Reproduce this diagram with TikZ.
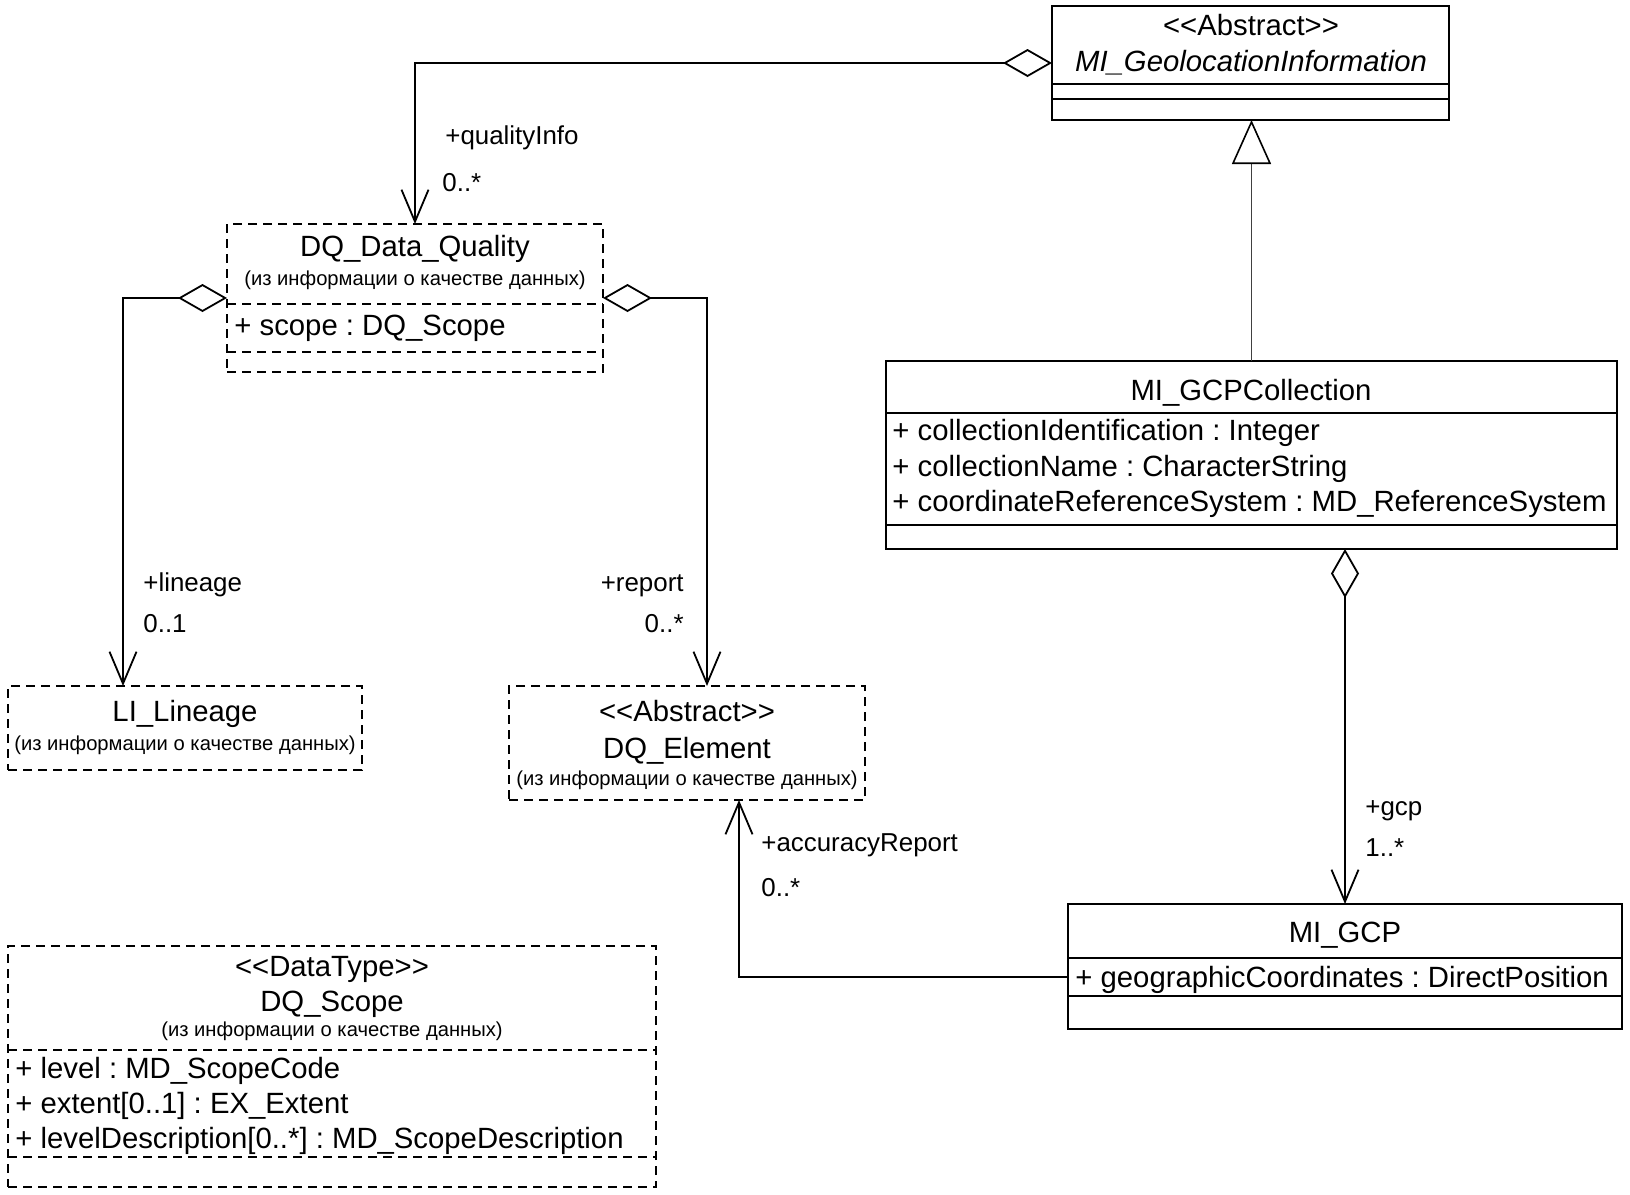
\documentclass[tikz,border=0pt]{standalone}
\usepackage{fontspec}
\setmainfont{Liberation Sans}
\usetikzlibrary{arrows.meta,positioning}
\frenchspacing

\begin{document}
\begin{tikzpicture}[
  x=0.5pt,y=-0.5pt,
  box/.style={draw,line width=0.6pt,inner sep=0pt,outer sep=0pt,anchor=north west},
  dbox/.style={box,dash pattern=on 4.5pt off 3pt},
  ttl/.style={font=\fontsize{14.65}{17}\selectfont,inner sep=0pt,anchor=base},
  sub/.style={font=\fontsize{10.1}{12}\selectfont,inner sep=0pt,anchor=base},
  attr/.style={font=\fontsize{14.65}{17}\selectfont,inner sep=0pt,anchor=base west},
  lbl/.style={font=\fontsize{12.95}{15}\selectfont,inner sep=0pt,anchor=base west},
  rlbl/.style={lbl,anchor=base east},
  sep/.style={line width=0.6pt},
  dsep/.style={sep,dash pattern=on 4.5pt off 3pt},
  assoc/.style={line width=0.9pt,-{Straight Barb[length=16pt,width=13.5pt]}},
  aggr/.style={line width=0.9pt,{Diamond[open,length=24.5pt,width=14pt]}-{Straight Barb[length=16pt,width=13.5pt]}},
  gen/.style={line width=0.5pt,draw=black!75,-{Triangle[fill=white,color=black,length=22pt,width=19.5pt,line width=0.8pt]}}
]
\useasboundingbox (0,0) rectangle (1630,1195);

% class boxes
\node[box,minimum width=198.5pt,minimum height=57pt] (geo) at (1052,6) {};
\node[dbox,minimum width=188pt,minimum height=74pt] (dq) at (227,224) {};
\node[dbox,minimum width=177pt,minimum height=42pt] (lin) at (8,686) {};
\node[dbox,minimum width=178pt,minimum height=57pt] (elem) at (509,686) {};
\node[box,minimum width=365.5pt,minimum height=94pt] (gcpc) at (886,361) {};
\node[box,minimum width=277pt,minimum height=62.5pt] (gcp) at (1068,904) {};
\node[dbox,minimum width=324pt,minimum height=120.5pt] (sc) at (8,946) {};

% compartments
\foreach \y in {84,99} \draw[sep] (1052,\y) -- (1449,\y);
\foreach \y in {413,525} \draw[sep] (886,\y) -- (1617,\y);
\foreach \y in {958,996} \draw[sep] (1068,\y) -- (1622,\y);
\foreach \y in {304,352} \draw[dsep] (227,\y) -- (603,\y);
\foreach \y in {1050,1157} \draw[dsep] (8,\y) -- (656,\y);

% texts
\node[ttl] (geoS) at (1251,35.5) {<{}<Abstract>{}>};
\node[ttl,font=\fontsize{14.65}{17}\selectfont\itshape] (geoN) at (1251,71.5) {MI\_GeolocationInformation};

\node[ttl] (dqN) at (415,256.5) {DQ\_Data\_Quality};
\node[sub] (dqSub) at (415,285) {(из информации о качестве данных)};
\node[attr] (dqA) at (234,335.5) {+ scope : DQ\_Scope};

\node[ttl] (linN) at (185,721.5) {LI\_Lineage};
\node[sub] (linSub) at (185,750) {(из информации о качестве данных)};

\node[ttl] (elemS) at (687,721.5) {<{}<Abstract>{}>};
\node[ttl] (elemN) at (687,758.5) {DQ\_Element};
\node[sub] (elemSub) at (687,785) {(из информации о качестве данных)};

\node[ttl] (gcpcN) at (1251,400.5) {MI\_GCPCollection};
\node[attr] (gcpcA) at (892,440.5) {+ collectionIdentification : Integer};
\node[attr] (gcpcB) at (892,476.5) {+ collectionName : CharacterString};
\node[attr] (gcpcC) at (892,511.5) {+ coordinateReferenceSystem : MD\_ReferenceSystem};

\node[ttl] (gcpN) at (1345,942.5) {MI\_GCP};
\node[attr] (gcpA) at (1075,987.5) {+ geographicCoordinates : DirectPosition};

\node[ttl] (scS) at (332,976.5) {<{}<DataType>{}>};
\node[ttl] (scN) at (332,1011.5) {DQ\_Scope};
\node[sub] (scSub) at (332,1036) {(из информации о качестве данных)};
\node[attr] (scA) at (15,1078.5) {+ level : MD\_ScopeCode};
\node[attr] (scB) at (15,1113.5) {+ extent[0..1] : EX\_Extent};
\node[attr] (scC) at (15,1148.5) {+ levelDescription[0..*] : MD\_ScopeDescription};

% connectors
\draw[aggr] (geo.west) -| (dq.north);
\draw[aggr] (dq.west) -| ([xshift=57.5pt]lin.north west);
\draw[aggr] (dq.east) -| ([xshift=10pt]elem.north);
\draw[gen] (gcpc.north) -- (gcpc.north |- geo.south);
\draw[aggr] (gcp.north |- gcpc.south) -- (gcp.north);
\draw[assoc] ([yshift=-5.25pt]gcp.west) -| ([xshift=26pt]elem.south);

% role names and multiplicities
\node[lbl] (qualR) at (445,144) {+qualityInfo};
\node[lbl] (qualM) at (442,191) {0..*};
\node[lbl] (linR) at (143,591) {+lineage};
\node[lbl] (linM) at (143,632) {0..1};
\node[rlbl] (repR) at (684,591) {+report};
\node[rlbl] (repM) at (684,632) {0..*};
\node[lbl] (gcpR) at (1365,815) {+gcp};
\node[lbl] (gcpM) at (1365,856) {1..*};
\node[lbl] (accR) at (761,851) {+accuracyReport};
\node[lbl] (accM) at (761,896) {0..*};
\end{tikzpicture}
\end{document}
